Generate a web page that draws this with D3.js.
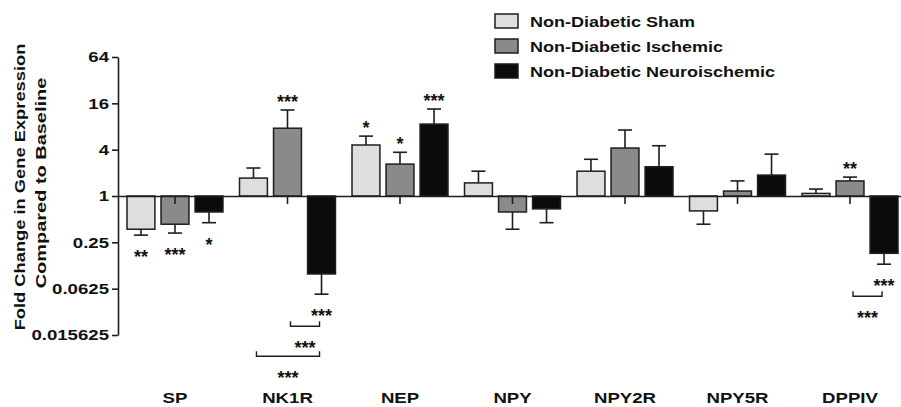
<!DOCTYPE html>
<html>
<head>
<meta charset="utf-8">
<script src="https://cdn.jsdelivr.net/npm/d3@7"></script>
<style>
  html, body { margin: 0; padding: 0; background: #fff; }
  svg { display: block; font-family: "Liberation Sans", Arial, sans-serif; font-weight: bold; }
</style>
</head>
<body>
<svg id="chart" width="901" height="407"></svg>
<script>
// Genes measured
const categories = ["SP", "NK1R", "NEP", "NPY", "NPY2R", "NPY5R", "DPPIV"];
// Groups
const seriesNames = ["Non-Diabetic Sham", "Non-Diabetic Ischemic", "Non-Diabetic Neuroischemic"];
// Mean fold change vs baseline, per group
const shamValues      = [0.37, 1.71, 4.6, 1.48, 2.1, 0.64, 1.08];
const ischemicValues  = [0.43, 7.6, 2.6, 0.62, 4.2, 1.16, 1.57];
const neuroValues     = [0.62, 0.097, 8.6, 0.68, 2.4, 1.87, 0.18];
// End of the one-sided error bar (value reached by mean ± SEM)
const shamErrEnd      = [0.31, 2.31, 6.0, 2.1, 3.0, 0.43, 1.23];
const ischemicErrEnd  = [0.33, 13.1, 3.7, 0.37, 7.2, 1.57, 1.76];
const neuroErrEnd     = [0.45, 0.053, 13.5, 0.45, 4.5, 3.5, 0.13];
// Y axis ticks
const yTickValues = [64, 16, 4, 1, 0.25, 0.0625, 0.015625];
const yTickLabels = ["64", "16", "4", "1", "0.25", "0.0625", "0.015625"];
// Significance vs baseline: [category, series index, marker]
const starMarks = [
  ["SP", 0, "**"], ["SP", 1, "***"], ["SP", 2, "*"],
  ["NK1R", 1, "***"], ["NK1R", 2, "***"],
  ["NEP", 0, "*"], ["NEP", 1, "*"], ["NEP", 2, "***"],
  ["DPPIV", 1, "**"], ["DPPIV", 2, "***"]
];
// Between-group comparisons: [category, from series, to series, marker]
const bracketMarks = [
  ["NK1R", 1, 2, "***"],
  ["NK1R", 0, 2, "***"],
  ["DPPIV", 1, 2, "***"]
];

const values = [shamValues, ischemicValues, neuroValues];
const errEnds = [shamErrEnd, ischemicErrEnd, neuroErrEnd];
const colors = ["#dedede", "#8a8a8a", "#0b0b0b"];
const ink = "#1e1e1e";

const svg = d3.select("#chart");

const y = d3.scaleLog().base(2).domain([0.015625, 64]).range([335, 57]);
const x = d3.scaleBand().domain(categories).range([118, 907]).paddingInner(0.147).paddingOuter(0.08);
const xs = d3.scaleBand().domain(d3.range(3)).range([0, x.bandwidth()]).paddingInner(0.18);

// widen bold labels along their reading direction
function widen(k) {
  return sel => sel.each(function () {
    const len = this.getComputedTextLength();
    d3.select(this).attr("textLength", len * k).attr("lengthAdjust", "spacingAndGlyphs");
  });
}

const rows = [];
categories.forEach((c, i) => {
  for (let s = 0; s < 3; s++) rows.push({ cat: c, s, v: values[s][i], e: errEnds[s][i] });
});

const barX = d => x(d.cat) + xs(d.s);
const midX = d => barX(d) + xs.bandwidth() / 2;
const y1 = y(1);

// error bars
const eg = svg.append("g").attr("stroke", ink).attr("stroke-width", 1.6);
eg.selectAll("line.stem").data(rows).join("line")
  .attr("x1", midX).attr("x2", midX)
  .attr("y1", d => y(d.v)).attr("y2", d => y(d.e));
eg.selectAll("line.cap").data(rows).join("line")
  .attr("x1", d => midX(d) - 7).attr("x2", d => midX(d) + 7)
  .attr("y1", d => y(d.e)).attr("y2", d => y(d.e));

// bars grow from the baseline of 1
svg.append("g").selectAll("rect").data(rows).join("rect")
  .attr("x", barX)
  .attr("width", xs.bandwidth())
  .attr("y", d => Math.min(y(d.v), y1))
  .attr("height", d => Math.abs(y(d.v) - y1))
  .attr("fill", d => colors[d.s])
  .attr("stroke", ink).attr("stroke-width", 1.5);

// x axis at fold change 1
const xAxis = svg.append("g").attr("transform", `translate(0,${y1})`)
  .call(d3.axisBottom(x).tickSize(8).tickSizeOuter(0).tickPadding(188));
xAxis.select(".domain").attr("stroke", ink).attr("stroke-width", 1.6);
xAxis.selectAll(".tick line").attr("stroke", ink).attr("stroke-width", 1.6);
xAxis.selectAll(".tick text").attr("font-size", 15).attr("font-family", "Liberation Sans, Arial, sans-serif")
  .attr("font-weight", "bold").attr("fill", "#111").call(widen(1.24));

// y axis
const yAxis = svg.append("g").attr("transform", "translate(118,0)")
  .call(d3.axisLeft(y).tickValues(yTickValues).tickFormat((d, i) => yTickLabels[i]).tickSize(6).tickSizeOuter(0).tickPadding(3));
yAxis.select(".domain").attr("stroke", ink).attr("stroke-width", 1.6);
yAxis.selectAll(".tick line").attr("stroke", ink).attr("stroke-width", 1.6);
yAxis.selectAll(".tick text").attr("font-size", 15).attr("font-family", "Liberation Sans, Arial, sans-serif")
  .attr("font-weight", "bold").attr("fill", "#111").call(widen(1.24));

// y axis title
const title = svg.append("g").attr("transform", "translate(25,187) rotate(-90)")
  .attr("font-size", 15).attr("fill", "#111").attr("text-anchor", "middle");
title.append("text").attr("x", 0).attr("y", 0).text("Fold Change in Gene Expression").call(widen(1.22));
title.append("text").attr("x", 4).attr("y", 21).text("Compared to Baseline").call(widen(1.33));

// significance markers
const starSize = 18;
const starLift = 10; // asterisk center sits this far above the text baseline
const starCenters = {};
const sg = svg.append("g").attr("font-size", starSize).attr("fill", "#111").attr("text-anchor", "middle");
starMarks.forEach(([c, s, txt]) => {
  const i = categories.indexOf(c);
  const v = values[s][i], e = errEnds[s][i];
  const cy = v >= 1 ? y(e) - 12 : y(e) + 18;
  starCenters[c + s] = cy;
  sg.append("text").attr("x", x(c) + xs(s) + xs.bandwidth() / 2).attr("y", cy + starLift).text(txt);
});

const bg = svg.append("g").attr("stroke", ink).attr("stroke-width", 1.4).attr("fill", "none");
const level = {};
bracketMarks.forEach(([c, a, b, txt]) => {
  const k = level[c] || 0;
  level[c] = k + 1;
  const top = starCenters[c + b] + 14 + k * 30;
  const xa = x(c) + xs(a) + xs.bandwidth() / 2 + 3;
  const xb = x(c) + xs(b) + xs.bandwidth() / 2 - 2;
  bg.append("path").attr("d", `M${xa},${top - 5}V${top}H${xb}V${top - 5}`);
  sg.append("text").attr("x", (xa + xb) / 2).attr("y", top + 18 + starLift).text(txt);
});

// legend
const lg = svg.append("g").attr("font-size", 15).attr("fill", "#111");
seriesNames.forEach((n, i) => {
  const cy = 21 + i * 25;
  lg.append("rect").attr("x", 495).attr("y", cy - 7).attr("width", 23).attr("height", 14)
    .attr("fill", colors[i]).attr("stroke", ink).attr("stroke-width", 1.5);
  lg.append("text").attr("x", 530).attr("y", cy + 5.5).text(n).call(widen(1.2));
});
</script>
</body>
</html>
